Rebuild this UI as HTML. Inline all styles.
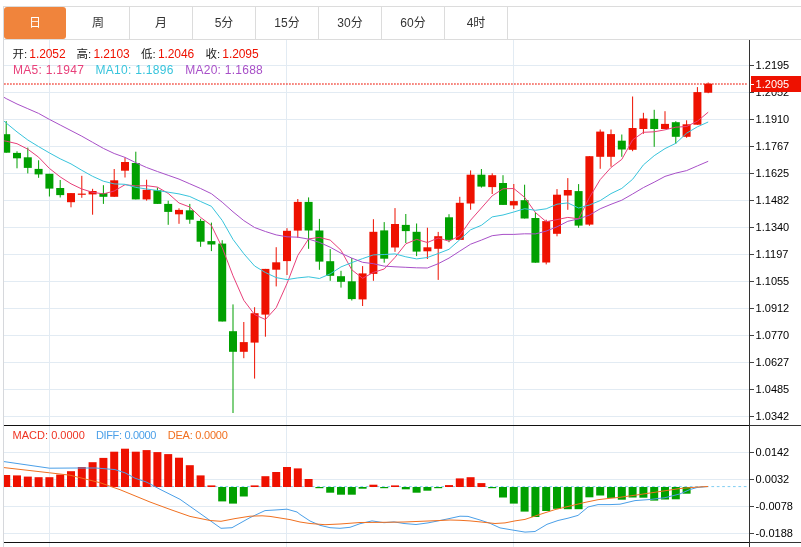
<!DOCTYPE html>
<html lang="zh"><head><meta charset="utf-8"><title>K线图</title>
<style>
html,body{margin:0;padding:0;background:#fff;}
body{width:801px;height:547px;position:relative;overflow:hidden;font-family:"Liberation Sans","Noto Sans CJK SC",sans-serif;}
.frame{position:absolute;left:3px;top:6px;width:798px;height:541px;border-left:1px solid #d6d8dc;box-sizing:border-box;}
.tabs{position:absolute;left:3px;top:6px;width:798px;height:34px;box-sizing:border-box;border-top:1px solid #dcdcdc;border-bottom:1px solid #dcdcdc;}
.tab{position:absolute;top:0;height:32px;width:62px;line-height:32px;text-align:center;font-size:12px;color:#333;border-right:1px solid #dcdcdc;}
.tab.on{background:#f0843c;color:#fff;border-radius:3px;border-right:none;width:62px;}
</style></head><body>
<div class="frame"></div>
<div class="tabs"><div class="tab on" style="left:1px">日</div><div class="tab" style="left:64px">周</div><div class="tab" style="left:127px">月</div><div class="tab" style="left:190px">5分</div><div class="tab" style="left:253px">15分</div><div class="tab" style="left:316px">30分</div><div class="tab" style="left:379px">60分</div><div class="tab" style="left:442px">4时</div></div>
<svg width="801" height="547" viewBox="0 0 801 547" style="position:absolute;left:0;top:0">
<defs><clipPath id="cm"><rect x="4" y="40" width="745" height="385"/></clipPath><clipPath id="cd"><rect x="4" y="426" width="745" height="116"/></clipPath></defs>
<g fill="#e2ebf3" shape-rendering="crispEdges">
<rect x="4" y="65" width="745" height="1"/>
<rect x="4" y="92" width="745" height="1"/>
<rect x="4" y="119" width="745" height="1"/>
<rect x="4" y="146" width="745" height="1"/>
<rect x="4" y="173" width="745" height="1"/>
<rect x="4" y="200" width="745" height="1"/>
<rect x="4" y="227" width="745" height="1"/>
<rect x="4" y="254" width="745" height="1"/>
<rect x="4" y="281" width="745" height="1"/>
<rect x="4" y="308" width="745" height="1"/>
<rect x="4" y="335" width="745" height="1"/>
<rect x="4" y="362" width="745" height="1"/>
<rect x="4" y="389" width="745" height="1"/>
<rect x="4" y="416" width="745" height="1"/>
<rect x="4" y="452" width="745" height="1"/>
<rect x="4" y="479" width="745" height="1"/>
<rect x="4" y="506" width="745" height="1"/>
<rect x="4" y="533" width="745" height="1"/>
<rect x="49" y="40" width="1" height="507"/>
<rect x="286" y="40" width="1" height="507"/>
<rect x="513" y="40" width="1" height="507"/>
</g>
<line x1="4" y1="84" x2="747.5" y2="84" stroke="#ee1100" stroke-width="1" stroke-dasharray="1.8 1.2"/>
<g clip-path="url(#cm)">
<rect x="5.70" y="121.1" width="1" height="31.6" fill="#00a000"/>
<rect x="2.20" y="134.2" width="8" height="18.5" fill="#00a000"/>
<rect x="16.50" y="151.3" width="1" height="17.0" fill="#00a000"/>
<rect x="13.00" y="152.9" width="8" height="5.4" fill="#00a000"/>
<rect x="27.30" y="147.6" width="1" height="25.8" fill="#00a000"/>
<rect x="23.80" y="157.3" width="8" height="10.6" fill="#00a000"/>
<rect x="38.10" y="160.3" width="1" height="17.5" fill="#00a000"/>
<rect x="34.60" y="168.9" width="8" height="5.5" fill="#00a000"/>
<rect x="48.90" y="173.8" width="1" height="22.7" fill="#00a000"/>
<rect x="45.40" y="173.8" width="8" height="14.8" fill="#00a000"/>
<rect x="59.70" y="180.0" width="1" height="17.5" fill="#00a000"/>
<rect x="56.20" y="188.0" width="8" height="7.1" fill="#00a000"/>
<rect x="70.50" y="193.1" width="1" height="14.2" fill="#ee1100"/>
<rect x="67.00" y="193.1" width="8" height="9.1" fill="#ee1100"/>
<rect x="81.30" y="175.8" width="1" height="22.0" fill="#ee1100"/>
<rect x="77.80" y="193.6" width="8" height="1.2" fill="#ee1100"/>
<rect x="92.10" y="188.8" width="1" height="25.9" fill="#ee1100"/>
<rect x="88.60" y="191.0" width="8" height="3.4" fill="#ee1100"/>
<rect x="102.90" y="185.2" width="1" height="18.7" fill="#00a000"/>
<rect x="99.40" y="193.1" width="8" height="3.7" fill="#00a000"/>
<rect x="113.70" y="169.0" width="1" height="27.8" fill="#ee1100"/>
<rect x="110.20" y="180.3" width="8" height="16.5" fill="#ee1100"/>
<rect x="124.50" y="157.6" width="1" height="19.9" fill="#ee1100"/>
<rect x="121.00" y="162.0" width="8" height="8.7" fill="#ee1100"/>
<rect x="135.30" y="151.7" width="1" height="47.7" fill="#00a000"/>
<rect x="131.80" y="163.0" width="8" height="36.4" fill="#00a000"/>
<rect x="146.10" y="179.7" width="1" height="20.9" fill="#ee1100"/>
<rect x="142.60" y="189.8" width="8" height="9.6" fill="#ee1100"/>
<rect x="156.90" y="187.5" width="1" height="16.4" fill="#00a000"/>
<rect x="153.40" y="190.2" width="8" height="13.7" fill="#00a000"/>
<rect x="167.70" y="200.7" width="1" height="24.1" fill="#00a000"/>
<rect x="164.20" y="203.9" width="8" height="8.0" fill="#00a000"/>
<rect x="178.50" y="208.3" width="1" height="15.5" fill="#ee1100"/>
<rect x="175.00" y="209.9" width="8" height="4.4" fill="#ee1100"/>
<rect x="189.30" y="203.9" width="1" height="19.9" fill="#00a000"/>
<rect x="185.80" y="210.3" width="8" height="9.4" fill="#00a000"/>
<rect x="200.10" y="218.8" width="1" height="28.0" fill="#00a000"/>
<rect x="196.60" y="220.9" width="8" height="20.8" fill="#00a000"/>
<rect x="210.90" y="222.6" width="1" height="28.5" fill="#00a000"/>
<rect x="207.40" y="241.1" width="8" height="3.4" fill="#00a000"/>
<rect x="221.70" y="240.2" width="1" height="81.3" fill="#00a000"/>
<rect x="218.20" y="243.6" width="8" height="77.9" fill="#00a000"/>
<rect x="232.50" y="304.4" width="1" height="108.6" fill="#00a000"/>
<rect x="229.00" y="331.2" width="8" height="20.6" fill="#00a000"/>
<rect x="243.30" y="322.0" width="1" height="36.2" fill="#ee1100"/>
<rect x="239.80" y="342.1" width="8" height="9.7" fill="#ee1100"/>
<rect x="254.10" y="307.2" width="1" height="71.4" fill="#ee1100"/>
<rect x="250.60" y="313.2" width="8" height="29.4" fill="#ee1100"/>
<rect x="264.90" y="268.9" width="1" height="67.8" fill="#ee1100"/>
<rect x="261.40" y="268.9" width="8" height="45.7" fill="#ee1100"/>
<rect x="275.70" y="247.2" width="1" height="39.2" fill="#ee1100"/>
<rect x="272.20" y="262.3" width="8" height="7.4" fill="#ee1100"/>
<rect x="286.50" y="228.2" width="1" height="46.8" fill="#ee1100"/>
<rect x="283.00" y="230.8" width="8" height="30.3" fill="#ee1100"/>
<rect x="297.30" y="199.0" width="1" height="38.8" fill="#ee1100"/>
<rect x="293.80" y="201.9" width="8" height="28.7" fill="#ee1100"/>
<rect x="308.10" y="197.4" width="1" height="51.4" fill="#00a000"/>
<rect x="304.60" y="201.9" width="8" height="28.6" fill="#00a000"/>
<rect x="318.90" y="218.9" width="1" height="50.9" fill="#00a000"/>
<rect x="315.40" y="230.5" width="8" height="31.1" fill="#00a000"/>
<rect x="329.70" y="249.1" width="1" height="31.7" fill="#00a000"/>
<rect x="326.20" y="261.2" width="8" height="14.6" fill="#00a000"/>
<rect x="340.50" y="270.8" width="1" height="16.8" fill="#00a000"/>
<rect x="337.00" y="276.2" width="8" height="5.6" fill="#00a000"/>
<rect x="351.30" y="258.0" width="1" height="42.5" fill="#00a000"/>
<rect x="347.80" y="281.3" width="8" height="17.8" fill="#00a000"/>
<rect x="362.10" y="266.1" width="1" height="39.9" fill="#ee1100"/>
<rect x="358.60" y="273.4" width="8" height="26.0" fill="#ee1100"/>
<rect x="372.90" y="219.2" width="1" height="61.6" fill="#ee1100"/>
<rect x="369.40" y="231.8" width="8" height="42.1" fill="#ee1100"/>
<rect x="383.70" y="222.1" width="1" height="40.6" fill="#00a000"/>
<rect x="380.20" y="230.4" width="8" height="28.3" fill="#00a000"/>
<rect x="394.50" y="208.1" width="1" height="43.7" fill="#ee1100"/>
<rect x="391.00" y="224.0" width="8" height="23.5" fill="#ee1100"/>
<rect x="405.30" y="214.0" width="1" height="29.0" fill="#00a000"/>
<rect x="401.80" y="224.9" width="8" height="6.2" fill="#00a000"/>
<rect x="416.10" y="223.5" width="1" height="32.6" fill="#00a000"/>
<rect x="412.60" y="231.8" width="8" height="19.8" fill="#00a000"/>
<rect x="426.90" y="227.7" width="1" height="31.3" fill="#ee1100"/>
<rect x="423.40" y="247.3" width="8" height="4.0" fill="#ee1100"/>
<rect x="437.70" y="231.9" width="1" height="48.0" fill="#ee1100"/>
<rect x="434.20" y="236.2" width="8" height="12.6" fill="#ee1100"/>
<rect x="448.50" y="214.2" width="1" height="28.0" fill="#00a000"/>
<rect x="445.00" y="217.3" width="8" height="22.6" fill="#00a000"/>
<rect x="459.30" y="196.8" width="1" height="43.1" fill="#ee1100"/>
<rect x="455.80" y="202.8" width="8" height="37.1" fill="#ee1100"/>
<rect x="470.10" y="170.4" width="1" height="39.3" fill="#ee1100"/>
<rect x="466.60" y="174.7" width="8" height="28.8" fill="#ee1100"/>
<rect x="480.90" y="169.0" width="1" height="18.6" fill="#00a000"/>
<rect x="477.40" y="174.7" width="8" height="11.9" fill="#00a000"/>
<rect x="491.70" y="173.3" width="1" height="20.7" fill="#ee1100"/>
<rect x="488.20" y="175.2" width="8" height="11.9" fill="#ee1100"/>
<rect x="502.50" y="175.2" width="1" height="29.7" fill="#00a000"/>
<rect x="499.00" y="183.0" width="8" height="21.9" fill="#00a000"/>
<rect x="513.30" y="184.0" width="1" height="25.0" fill="#ee1100"/>
<rect x="509.80" y="201.1" width="8" height="4.3" fill="#ee1100"/>
<rect x="524.10" y="184.7" width="1" height="33.8" fill="#00a000"/>
<rect x="520.60" y="200.2" width="8" height="18.3" fill="#00a000"/>
<rect x="534.90" y="212.3" width="1" height="50.4" fill="#00a000"/>
<rect x="531.40" y="218.0" width="8" height="44.7" fill="#00a000"/>
<rect x="545.70" y="219.7" width="1" height="44.7" fill="#ee1100"/>
<rect x="542.20" y="221.1" width="8" height="41.4" fill="#ee1100"/>
<rect x="556.50" y="189.1" width="1" height="47.2" fill="#ee1100"/>
<rect x="553.00" y="194.7" width="8" height="39.1" fill="#ee1100"/>
<rect x="567.30" y="178.1" width="1" height="31.7" fill="#ee1100"/>
<rect x="563.80" y="190.0" width="8" height="5.5" fill="#ee1100"/>
<rect x="578.10" y="184.1" width="1" height="43.7" fill="#00a000"/>
<rect x="574.60" y="191.1" width="8" height="34.5" fill="#00a000"/>
<rect x="588.90" y="156.2" width="1" height="69.6" fill="#ee1100"/>
<rect x="585.40" y="156.2" width="8" height="68.4" fill="#ee1100"/>
<rect x="599.70" y="129.5" width="1" height="39.3" fill="#ee1100"/>
<rect x="596.20" y="131.6" width="8" height="25.2" fill="#ee1100"/>
<rect x="610.50" y="129.5" width="1" height="37.2" fill="#ee1100"/>
<rect x="607.00" y="134.1" width="8" height="22.7" fill="#ee1100"/>
<rect x="621.30" y="134.5" width="1" height="22.3" fill="#00a000"/>
<rect x="617.80" y="140.7" width="8" height="8.8" fill="#00a000"/>
<rect x="632.10" y="96.5" width="1" height="54.7" fill="#ee1100"/>
<rect x="628.60" y="128.0" width="8" height="21.8" fill="#ee1100"/>
<rect x="642.90" y="112.8" width="1" height="21.0" fill="#ee1100"/>
<rect x="639.40" y="118.5" width="8" height="10.5" fill="#ee1100"/>
<rect x="653.70" y="109.8" width="1" height="37.0" fill="#00a000"/>
<rect x="650.20" y="118.9" width="8" height="10.1" fill="#00a000"/>
<rect x="664.50" y="111.2" width="1" height="17.8" fill="#ee1100"/>
<rect x="661.00" y="123.9" width="8" height="5.1" fill="#ee1100"/>
<rect x="675.30" y="121.2" width="1" height="22.5" fill="#00a000"/>
<rect x="671.80" y="122.2" width="8" height="14.6" fill="#00a000"/>
<rect x="686.10" y="120.3" width="1" height="17.5" fill="#ee1100"/>
<rect x="682.60" y="124.3" width="8" height="12.5" fill="#ee1100"/>
<rect x="696.90" y="87.1" width="1" height="37.6" fill="#ee1100"/>
<rect x="693.40" y="92.1" width="8" height="32.6" fill="#ee1100"/>
<rect x="707.70" y="82.5" width="1" height="10.7" fill="#ee1100"/>
<rect x="704.20" y="83.7" width="8" height="9.0" fill="#ee1100"/>
<polyline fill="none" stroke="#e8407a" stroke-width="1.0" stroke-linejoin="round" points="4.0,140.8 6.2,141.2 17.0,143.7 27.8,149.2 38.6,157.2 49.4,168.4 60.2,176.9 71.0,183.8 81.8,189.0 92.6,192.3 103.4,193.9 114.2,191.0 125.0,184.7 135.8,185.9 146.6,185.7 157.4,187.1 168.2,193.4 179.0,203.0 189.8,207.0 200.6,217.4 211.4,225.5 222.2,247.5 233.0,275.8 243.8,300.3 254.6,314.6 265.4,319.5 276.2,307.7 287.0,283.5 297.8,255.4 308.6,238.9 319.4,237.4 330.2,240.1 341.0,250.3 351.8,269.8 362.6,278.3 373.4,272.4 384.2,269.0 395.0,257.4 405.8,243.8 416.6,239.4 427.4,242.5 438.2,238.0 449.0,241.2 459.8,235.6 470.6,220.2 481.4,208.0 492.2,195.8 503.0,188.8 513.8,188.5 524.6,197.3 535.4,212.5 546.2,221.7 557.0,219.6 567.8,217.4 578.6,218.8 589.4,197.5 600.2,179.6 611.0,167.5 621.8,159.4 632.6,139.9 643.4,132.3 654.2,131.8 665.0,129.8 675.8,127.2 686.6,126.5 697.4,121.2 708.2,112.2"/>
<polyline fill="none" stroke="#38c4dc" stroke-width="1.0" stroke-linejoin="round" points="4.0,121.1 6.2,123.0 17.0,131.9 27.8,140.0 38.6,146.6 49.4,152.9 60.2,158.8 71.0,163.9 81.8,170.3 92.6,176.3 103.4,181.2 114.2,183.9 125.0,184.3 135.8,187.4 146.6,189.0 157.4,190.5 168.2,192.2 179.0,193.9 189.8,196.5 200.6,201.5 211.4,206.3 222.2,220.4 233.0,239.4 243.8,253.7 254.6,266.0 265.4,272.5 276.2,277.6 287.0,279.6 297.8,277.9 308.6,276.8 319.4,278.5 330.2,273.9 341.0,266.9 351.8,262.6 362.6,258.6 373.4,254.9 384.2,254.5 395.0,253.9 405.8,256.8 416.6,258.9 427.4,257.5 438.2,253.5 449.0,249.3 459.8,239.7 470.6,229.8 481.4,225.3 492.2,216.9 503.0,215.0 513.8,212.0 524.6,208.7 535.4,210.3 546.2,208.8 557.0,204.2 567.8,202.9 578.6,208.0 589.4,205.0 600.2,200.6 611.0,193.6 621.8,188.4 632.6,179.3 643.4,164.9 654.2,155.7 665.0,148.6 675.8,143.3 686.6,133.2 697.4,126.8 708.2,122.0"/>
<polyline fill="none" stroke="#a850c8" stroke-width="1.0" stroke-linejoin="round" points="4.0,97.3 6.2,98.6 17.0,104.0 27.8,108.7 38.6,113.4 49.4,119.4 60.2,125.0 71.0,130.6 81.8,136.2 92.6,142.3 103.4,148.4 114.2,153.5 125.0,157.4 135.8,162.7 146.6,167.5 157.4,171.5 168.2,175.3 179.0,179.1 189.8,183.8 200.6,188.5 211.4,193.7 222.2,202.2 233.0,211.8 243.8,220.6 254.6,227.5 265.4,231.5 276.2,234.9 287.0,236.8 297.8,237.2 308.6,239.1 319.4,242.4 330.2,247.2 341.0,253.2 351.8,258.1 362.6,262.3 373.4,263.7 384.2,266.1 395.0,266.8 405.8,267.3 416.6,267.8 427.4,268.0 438.2,263.7 449.0,258.1 459.8,251.1 470.6,244.2 481.4,240.1 492.2,235.7 503.0,234.4 513.8,234.4 524.6,233.8 535.4,233.9 546.2,231.1 557.0,226.8 567.8,221.3 578.6,218.9 589.4,215.1 600.2,208.8 611.0,204.3 621.8,200.2 632.6,194.0 643.4,187.6 654.2,182.2 665.0,176.4 675.8,173.1 686.6,170.6 697.4,165.9 708.2,161.3"/>
</g>
<g clip-path="url(#cd)">
<line x1="4" y1="486.6" x2="747" y2="486.6" stroke="#7fcdf2" stroke-width="1" stroke-dasharray="2.7 2.7"/>
<rect x="2.20" y="475.0" width="8" height="12.0" fill="#ee1100"/>
<rect x="13.00" y="475.4" width="8" height="11.6" fill="#ee1100"/>
<rect x="23.80" y="476.6" width="8" height="10.4" fill="#ee1100"/>
<rect x="34.60" y="477.2" width="8" height="9.8" fill="#ee1100"/>
<rect x="45.40" y="477.2" width="8" height="9.8" fill="#ee1100"/>
<rect x="56.20" y="474.6" width="8" height="12.4" fill="#ee1100"/>
<rect x="67.00" y="471.2" width="8" height="15.8" fill="#ee1100"/>
<rect x="77.80" y="467.0" width="8" height="20.0" fill="#ee1100"/>
<rect x="88.60" y="462.2" width="8" height="24.8" fill="#ee1100"/>
<rect x="99.40" y="457.9" width="8" height="29.1" fill="#ee1100"/>
<rect x="110.20" y="451.7" width="8" height="35.3" fill="#ee1100"/>
<rect x="121.00" y="448.7" width="8" height="38.3" fill="#ee1100"/>
<rect x="131.80" y="451.7" width="8" height="35.3" fill="#ee1100"/>
<rect x="142.60" y="450.1" width="8" height="36.9" fill="#ee1100"/>
<rect x="153.40" y="452.1" width="8" height="34.9" fill="#ee1100"/>
<rect x="164.20" y="454.1" width="8" height="32.9" fill="#ee1100"/>
<rect x="175.00" y="457.7" width="8" height="29.3" fill="#ee1100"/>
<rect x="185.80" y="465.2" width="8" height="21.8" fill="#ee1100"/>
<rect x="196.60" y="475.4" width="8" height="11.6" fill="#ee1100"/>
<rect x="207.40" y="485.4" width="8" height="1.6" fill="#ee1100"/>
<rect x="218.20" y="487.0" width="8" height="14.4" fill="#00a000"/>
<rect x="229.00" y="487.0" width="8" height="16.6" fill="#00a000"/>
<rect x="239.80" y="487.0" width="8" height="9.5" fill="#00a000"/>
<rect x="250.60" y="485.4" width="8" height="1.6" fill="#ee1100"/>
<rect x="261.40" y="476.2" width="8" height="10.8" fill="#ee1100"/>
<rect x="272.20" y="472.0" width="8" height="15.0" fill="#ee1100"/>
<rect x="283.00" y="467.0" width="8" height="20.0" fill="#ee1100"/>
<rect x="293.80" y="468.4" width="8" height="18.6" fill="#ee1100"/>
<rect x="304.60" y="479.0" width="8" height="8.0" fill="#ee1100"/>
<rect x="315.40" y="487.0" width="8" height="1.2" fill="#00a000"/>
<rect x="326.20" y="487.0" width="8" height="5.7" fill="#00a000"/>
<rect x="337.00" y="487.0" width="8" height="7.7" fill="#00a000"/>
<rect x="347.80" y="487.0" width="8" height="7.7" fill="#00a000"/>
<rect x="358.60" y="487.0" width="8" height="1.7" fill="#00a000"/>
<rect x="369.40" y="484.7" width="8" height="2.3" fill="#ee1100"/>
<rect x="380.20" y="487.0" width="8" height="1.2" fill="#00a000"/>
<rect x="391.00" y="485.4" width="8" height="1.6" fill="#ee1100"/>
<rect x="401.80" y="487.0" width="8" height="2.3" fill="#00a000"/>
<rect x="412.60" y="487.0" width="8" height="5.7" fill="#00a000"/>
<rect x="423.40" y="487.0" width="8" height="3.7" fill="#00a000"/>
<rect x="434.20" y="487.0" width="8" height="1.2" fill="#00a000"/>
<rect x="445.00" y="485.1" width="8" height="1.9" fill="#ee1100"/>
<rect x="455.80" y="478.4" width="8" height="8.6" fill="#ee1100"/>
<rect x="466.60" y="477.2" width="8" height="9.8" fill="#ee1100"/>
<rect x="477.40" y="483.1" width="8" height="3.9" fill="#ee1100"/>
<rect x="488.20" y="487.0" width="8" height="1.2" fill="#00a000"/>
<rect x="499.00" y="487.0" width="8" height="10.5" fill="#00a000"/>
<rect x="509.80" y="487.0" width="8" height="16.6" fill="#00a000"/>
<rect x="520.60" y="487.0" width="8" height="24.6" fill="#00a000"/>
<rect x="531.40" y="487.0" width="8" height="30.0" fill="#00a000"/>
<rect x="542.20" y="487.0" width="8" height="24.0" fill="#00a000"/>
<rect x="553.00" y="487.0" width="8" height="21.8" fill="#00a000"/>
<rect x="563.80" y="487.0" width="8" height="22.2" fill="#00a000"/>
<rect x="574.60" y="487.0" width="8" height="22.2" fill="#00a000"/>
<rect x="585.40" y="487.0" width="8" height="10.3" fill="#00a000"/>
<rect x="596.20" y="487.0" width="8" height="8.5" fill="#00a000"/>
<rect x="607.00" y="487.0" width="8" height="10.9" fill="#00a000"/>
<rect x="617.80" y="487.0" width="8" height="12.7" fill="#00a000"/>
<rect x="628.60" y="487.0" width="8" height="10.5" fill="#00a000"/>
<rect x="639.40" y="487.0" width="8" height="10.7" fill="#00a000"/>
<rect x="650.20" y="487.0" width="8" height="13.6" fill="#00a000"/>
<rect x="661.00" y="487.0" width="8" height="12.5" fill="#00a000"/>
<rect x="671.80" y="487.0" width="8" height="12.3" fill="#00a000"/>
<rect x="682.60" y="487.0" width="8" height="6.7" fill="#00a000"/>
<polyline fill="none" stroke="#4a9fe8" stroke-width="1.0" stroke-linejoin="round" points="4.0,461.6 49.5,468.2 78.0,468.0 96.0,468.0 115.0,469.6 125.0,472.8 135.0,478.2 146.0,481.9 150.0,483.9 160.0,489.3 180.0,499.3 200.0,513.4 221.0,528.3 232.0,527.7 250.0,517.6 265.0,510.6 275.0,510.0 287.0,509.2 297.0,512.0 300.0,514.4 310.0,521.0 320.0,525.3 330.0,527.7 340.0,528.3 350.0,527.3 360.0,523.7 372.0,520.9 384.0,522.7 394.0,521.9 404.0,523.5 416.0,524.5 428.0,522.9 440.0,520.5 450.0,518.4 460.0,516.2 468.0,516.4 480.0,520.0 490.0,523.3 500.0,527.9 513.0,530.1 525.0,532.1 535.0,531.5 547.0,524.3 558.0,520.5 568.0,518.2 578.0,515.4 588.0,507.0 598.0,504.6 610.0,504.6 620.0,504.2 635.0,500.6 650.0,499.5 665.0,497.7 680.0,493.9 690.0,489.5 697.0,487.5 708.0,486.5"/>
<polyline fill="none" stroke="#f07020" stroke-width="1.0" stroke-linejoin="round" points="4.0,467.6 49.5,472.8 70.0,475.2 100.0,482.7 120.0,489.7 150.0,502.0 170.0,509.4 190.0,516.4 210.0,520.5 221.0,521.3 235.0,518.6 250.0,516.2 262.0,515.8 270.0,516.4 290.0,519.6 300.0,522.0 310.0,523.5 325.0,524.7 340.0,524.0 360.0,522.5 384.0,522.3 404.0,522.0 428.0,521.0 440.0,520.5 450.0,520.0 460.0,520.3 470.0,520.9 480.0,521.9 495.0,523.5 505.0,522.9 515.0,520.9 525.0,519.4 540.0,514.4 555.0,509.6 570.0,506.0 585.0,502.4 598.0,499.7 610.0,498.3 620.0,497.3 640.0,494.5 660.0,491.5 680.0,488.5 697.0,487.1 708.0,486.5"/>
</g>
<g fill="#333" shape-rendering="crispEdges">
<rect x="4" y="425" width="745" height="1" fill="#111"/>
<rect x="4" y="542" width="745" height="1" fill="#111"/>
<rect x="749" y="40" width="1" height="507"/>
<rect x="750" y="425" width="51" height="1"/>
<rect x="750" y="542" width="51" height="1"/>
<rect x="750" y="65" width="4" height="1" fill="#444"/>
<rect x="750" y="92" width="4" height="1" fill="#444"/>
<rect x="750" y="119" width="4" height="1" fill="#444"/>
<rect x="750" y="146" width="4" height="1" fill="#444"/>
<rect x="750" y="173" width="4" height="1" fill="#444"/>
<rect x="750" y="200" width="4" height="1" fill="#444"/>
<rect x="750" y="227" width="4" height="1" fill="#444"/>
<rect x="750" y="254" width="4" height="1" fill="#444"/>
<rect x="750" y="281" width="4" height="1" fill="#444"/>
<rect x="750" y="308" width="4" height="1" fill="#444"/>
<rect x="750" y="335" width="4" height="1" fill="#444"/>
<rect x="750" y="362" width="4" height="1" fill="#444"/>
<rect x="750" y="389" width="4" height="1" fill="#444"/>
<rect x="750" y="416" width="4" height="1" fill="#444"/>
<rect x="750" y="452" width="4" height="1" fill="#444"/>
<rect x="750" y="479" width="4" height="1" fill="#444"/>
<rect x="750" y="506" width="4" height="1" fill="#444"/>
<rect x="750" y="533" width="4" height="1" fill="#444"/>
</g>
<g font-family="Liberation Sans, sans-serif" font-size="11" fill="#000">
<text x="755.6" y="69">1.2195</text>
<text x="755.6" y="96">1.2052</text>
<text x="755.6" y="123">1.1910</text>
<text x="755.6" y="150">1.1767</text>
<text x="755.6" y="177">1.1625</text>
<text x="755.6" y="204">1.1482</text>
<text x="755.6" y="231">1.1340</text>
<text x="755.6" y="258">1.1197</text>
<text x="755.6" y="285">1.1055</text>
<text x="755.6" y="312">1.0912</text>
<text x="755.6" y="339">1.0770</text>
<text x="755.6" y="366">1.0627</text>
<text x="755.6" y="393">1.0485</text>
<text x="755.6" y="420">1.0342</text>
<text x="755.6" y="456">0.0142</text>
<text x="755.6" y="483">0.0032</text>
<text x="755.6" y="510">-0.0078</text>
<text x="755.6" y="537">-0.0188</text>
</g>
<rect x="751" y="76" width="50" height="16" fill="#ee1100" shape-rendering="crispEdges"/>
<rect x="750" y="84" width="4" height="1" fill="#fff" shape-rendering="crispEdges"/>
<text x="755.6" y="88" font-family="Liberation Sans, sans-serif" font-size="11" fill="#fff">1.2095</text>
<g font-family="Liberation Sans, Noto Sans CJK SC, sans-serif" font-size="12">
<text x="12.4" y="58" fill="#222" font-size="11.5">开:</text><text x="29.3" y="58" fill="#ee1100" textLength="36.3">1.2052</text>
<text x="76.5" y="58" fill="#222" font-size="11.5">高:</text><text x="93.4" y="58" fill="#ee1100" textLength="36.3">1.2103</text>
<text x="141" y="58" fill="#222" font-size="11.5">低:</text><text x="157.9" y="58" fill="#ee1100" textLength="36.3">1.2046</text>
<text x="205.4" y="58" fill="#222" font-size="11.5">收:</text><text x="222.3" y="58" fill="#ee1100" textLength="36.3">1.2095</text>
<text x="12.9" y="73.6" fill="#e8407a" textLength="71">MA5: 1.1947</text>
<text x="95.4" y="73.6" fill="#38c4dc" textLength="78">MA10: 1.1896</text>
<text x="185.2" y="73.6" fill="#a850c8" textLength="77.6">MA20: 1.1688</text>
</g>
<g font-family="Liberation Sans, Noto Sans CJK SC, sans-serif" font-size="11">
<text x="12.6" y="439" fill="#ee3322" textLength="72.2">MACD: 0.0000</text>
<text x="95.9" y="439" fill="#4a9fe8" textLength="60.5">DIFF: 0.0000</text>
<text x="167.8" y="439" fill="#f07020" textLength="60">DEA: 0.0000</text>
</g>
</svg>
</body></html>
